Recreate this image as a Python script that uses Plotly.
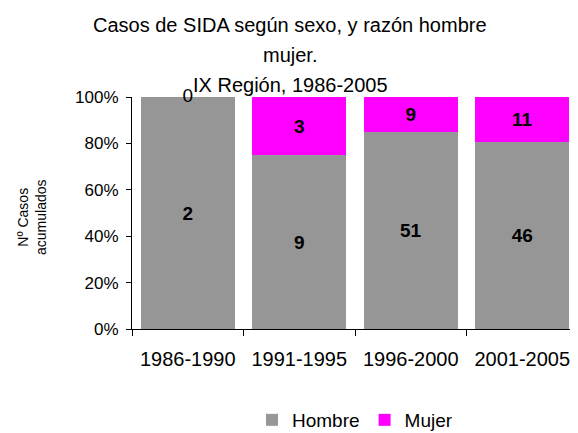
import plotly.graph_objects as go

categories = ["1986-1990", "1991-1995", "1996-2000", "2001-2005"]
hombre = [2, 9, 51, 46]
mujer = [0, 3, 9, 11]
y_ticks = [0, 20, 40, 60, 80, 100]
title_lines = ["Casos de SIDA según sexo, y razón hombre", "mujer.", "IX Región, 1986-2005"]

FONT = "Liberation Sans, Arial, sans-serif"
GRAY = "#969696"
MAG = "#FF00FF"

# page body has an 8px margin, so the figure is drawn 8px smaller and offset
W, H = 570, 425
L, R, T, B = 124, 0, 89, 104
PH = H - T - B
PW = W - L - R

fig = go.Figure()
fig.add_trace(go.Bar(
    x=categories, y=hombre, name="Hombre", marker=dict(color=GRAY, line=dict(width=0)),
    text=[f"<b>{v}</b>" for v in hombre], textposition="inside", insidetextanchor="middle",
    textfont=dict(family=FONT, size=19, color="black"), textangle=0,
))
fig.add_trace(go.Bar(
    x=categories, y=mujer, name="Mujer", marker=dict(color=MAG, line=dict(width=0)),
    text=[f"<b>{v}</b>" if v else "" for v in mujer], textposition="inside", insidetextanchor="middle",
    textfont=dict(family=FONT, size=19, color="black"), textangle=0,
))
# label for zero-valued Mujer segments (drawn at top of the stack)
zero_x = [c for c, m in zip(categories, mujer) if m == 0]
zero_y = [100.0 for m in mujer if m == 0]
zero_t = [str(m) for m in mujer if m == 0]
fig.add_trace(go.Scatter(
    x=zero_x, y=zero_y, text=zero_t, mode="text", textposition="middle center",
    textfont=dict(family=FONT, size=19, color="black"), showlegend=False, hoverinfo="skip", cliponaxis=False,
))

for line, yy in zip(title_lines, [17, 47, 77]):
    fig.add_annotation(
        text=line, xref="paper", yref="paper", x=(282 - L) / PW, y=(H - B - yy) / PH,
        showarrow=False, xanchor="center", yanchor="middle",
        font=dict(family=FONT, size=20, color="black"),
    )

fig.add_annotation(
    text="Nº Casos<br>acumulados", xref="paper", yref="paper",
    x=(24 - L) / PW, y=(H - B - 209) / PH, textangle=-90,
    showarrow=False, xanchor="center", yanchor="middle",
    font=dict(family=FONT, size=14, color="black"),
)

fig.update_layout(
    width=W, height=H,
    margin=dict(l=L, r=R, t=T, b=B, autoexpand=False),
    barmode="stack", barnorm="percent", bargap=0.156,
    paper_bgcolor="white", plot_bgcolor="white",
    font=dict(family=FONT, size=15, color="black"),
    showlegend=True,
    legend=dict(orientation="h", x=(244 - L) / PW, xanchor="left", y=(H - B - 412) / PH, yanchor="middle",
                font=dict(family=FONT, size=19), itemwidth=30, traceorder="normal",
                tracegroupgap=0),
)
fig.update_xaxes(
    range=[-0.5, 3.5], automargin=False,
    showline=True, linecolor="black", linewidth=1, ticks="outside", tickson="boundaries",
    ticklen=6, tickcolor="black", tickfont=dict(family=FONT, size=20), showgrid=False,
    ticklabelstandoff=12,
)
fig.update_yaxes(
    range=[0, 100], tickvals=y_ticks, ticktext=[f"{v}%" for v in y_ticks], automargin=False,
    showline=True, linecolor="black", linewidth=1, ticks="outside", ticklen=5, tickcolor="black",
    tickfont=dict(family=FONT, size=17), showgrid=False, zeroline=False,
    ticklabelstandoff=4,
)
fig.write_html("out.html")
